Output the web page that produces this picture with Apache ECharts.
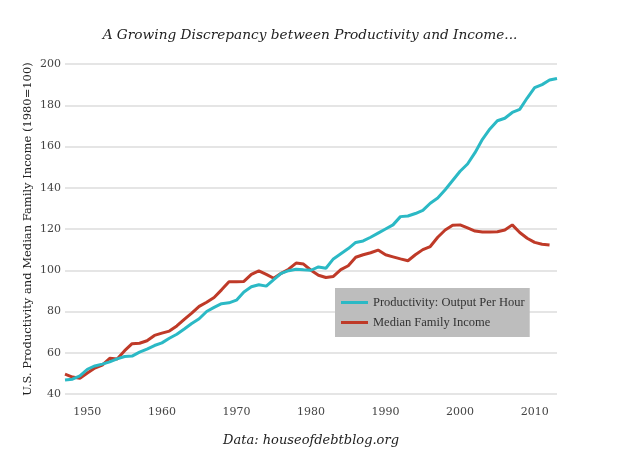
<!DOCTYPE html>
<html>
<head>
<meta charset="utf-8">
<script src="https://cdn.jsdelivr.net/npm/echarts@6/dist/echarts.min.js"></script>
<style>html,body{margin:0;padding:0;background:#fff}#c{width:620px;height:462px}</style>
</head>
<body>
<div id="c"></div>
<script>
const years = [];
for (let y = 1947; y <= 2013; y++) years.push(y);
const productivity = [46.8,47.2,48.8,52,53.6,54.5,55.6,57,58.2,58.4,60.3,61.8,63.5,64.8,67,69,71.5,74.2,76.5,80,82,83.8,84.2,85.5,89.5,92,93,92.3,95.5,98.5,99.8,100.5,100.2,100,101.6,101,105.5,108,110.5,113.5,114.2,116,118,120,122,126,126.3,127.5,129,132.5,135,139,143.5,148,151.5,157,163.5,168.5,172.5,173.7,176.5,178,183.5,188.5,190,192.2,193];
const income = [49.6,48.2,47.6,50.2,52.6,54,57.3,57,61,64.4,64.6,65.8,68.4,69.5,70.5,73,76.2,79.2,82.5,84.5,86.8,90.5,94.4,94.4,94.6,98,99.7,98,96.1,98.5,100.5,103.5,103,100,97.6,96.5,97,100.3,102.2,106.3,107.5,108.5,109.8,107.5,106.5,105.5,104.6,107.5,110,111.5,116,119.5,121.8,122,120.5,119,118.5,118.5,118.7,119.5,122,118.3,115.5,113.5,112.6,112.2];
const xTicks = [1950,1960,1970,1980,1990,2000,2010];
const seriesNames = ['Productivity: Output Per Hour','Median Family Income'];
const titleText = 'A Growing Discrepancy between Productivity and Income...';
const yName = 'U.S. Productivity and Median Family Income (1980=100)';
const xName = 'Data: houseofdebtblog.org';

const pair = (vals) => vals.map((v, i) => [years[i], v]);
const serif = 'DejaVu Serif';
const chart = echarts.init(document.getElementById('c'), null, {renderer: 'canvas'});
chart.setOption({
  animation: false,
  backgroundColor: '#fff',
  title: {
    text: titleText, left: 'center', top: 23,
    textStyle: {fontFamily: serif, fontStyle: 'italic', fontWeight: 'normal', fontSize: 13.7, color: '#222'}
  },
  grid: {left: 65, right: 63, top: 64, bottom: 68},
  legend: {
    left: 335, top: 288, orient: 'vertical',
    backgroundColor: '#bdbdbd', padding: [8, 5, 8, 6], itemGap: 7,
    itemWidth: 27, itemHeight: 3, icon: 'rect',
    textStyle: {fontFamily: 'Liberation Serif', fontSize: 12.5, color: '#333'},
    data: seriesNames
  },
  xAxis: {
    type: 'value', min: 1947, max: 2013,
    name: xName, nameLocation: 'middle', nameGap: 40,
    nameTextStyle: {fontFamily: serif, fontStyle: 'italic', fontSize: 13, color: '#222'},
    axisLine: {show: false}, axisTick: {show: false}, splitLine: {show: false},
    axisLabel: {customValues: xTicks, formatter: (v) => String(v), fontFamily: serif, fontSize: 11, color: '#444', margin: 13}
  },
  yAxis: {
    type: 'value', min: 40, max: 200, interval: 20,
    name: yName, nameLocation: 'middle', nameGap: 31, nameRotate: 90, nameMoveOverlap: false,
    nameTextStyle: {fontFamily: serif, fontSize: 11.5, color: '#222'},
    axisLine: {show: false}, axisTick: {show: false},
    axisLabel: {fontFamily: serif, fontSize: 11, color: '#444', margin: 4},
    splitLine: {lineStyle: {color: '#dcdcdc', width: 1.5}}
  },
  series: [
    {name: seriesNames[0], type: 'line', data: pair(productivity), showSymbol: false,
     lineStyle: {color: '#2bb9c5', width: 3}, itemStyle: {color: '#2bb9c5'}, z: 3},
    {name: seriesNames[1], type: 'line', data: pair(income), showSymbol: false,
     lineStyle: {color: '#bf3a28', width: 3}, itemStyle: {color: '#bf3a28'}, z: 2}
  ]
});
</script>
</body>
</html>
